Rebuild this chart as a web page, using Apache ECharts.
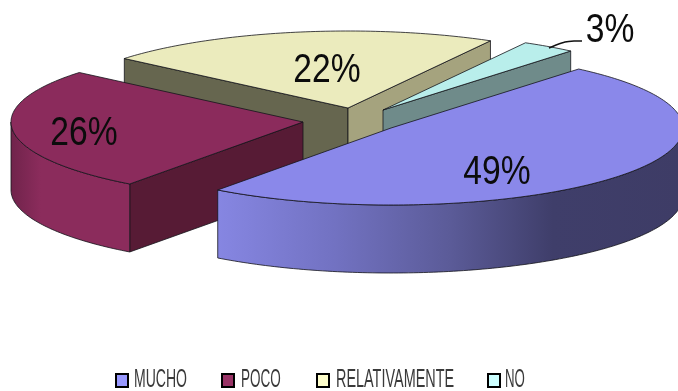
<!DOCTYPE html>
<html>
<head>
<meta charset="utf-8">
<style>html,body{margin:0;padding:0;background:#fff}#chart{width:678px;height:391px}</style>
<script src="https://cdn.jsdelivr.net/npm/echarts@6/dist/echarts.min.js"></script>
</head>
<body>
<div id="chart"></div>
<script>
const categories = ['MUCHO', 'POCO', 'RELATIVAMENTE', 'NO'];
const values = [49, 26, 22, 3];

// Clockwise angle of the first slice, measured from the top of the pie.
const startAngle = 40;
const radiusX = 292, radiusY = 77, depth = 68;

// Exploded centre, paint order and shading of each slice.
const centers = [[391, 128], [303, 122], [348, 108], [383, 110]];
const paintOrder = [4, 3, 1, 2];
const topColors = ['#8a88ea', '#8b2b5c', '#ebebbd', '#b9eeeb'];
const swatchColors = ['#9999ff', '#993366', '#ffffcc', '#ccffff'];
const startWallColors = [null, '#571b35', '#66664f', null];
const endWallColors = [null, null, '#a5a37e', '#6f8b8a'];
const rimStops = [
  [[0, '#8686e2'], [0.25, '#7272c2'], [0.5, '#5b5b98'], [0.72, '#3f3e6a'], [1, '#3e3c66']],
  [[0, '#70234b'], [0.25, '#8b2c5c'], [1, '#8b2c5c']]
];
const labelPositions = [[497, 173], [84, 134], [327, 71], [610, 31]];
const legendSwatchX = [115, 221, 316, 487];
const legendTextX = [134, 241, 336, 505];
const legendTextScale = [0.54, 0.52, 0.555, 0.51];
const labelScale = 0.82;
const edge = '#14141a';

const total = values.reduce((s, v) => s + v, 0);
const rad = d => d * Math.PI / 180;

function rimPoint(c, deg, drop) {
  return [c[0] + radiusX * Math.sin(rad(deg)), c[1] - radiusY * Math.cos(rad(deg)) + drop];
}
function arc(c, from, to, drop) {
  const pts = [];
  const n = Math.max(2, Math.ceil(Math.abs(to - from)));
  for (let i = 0; i <= n; i++) pts.push(rimPoint(c, from + (to - from) * i / n, drop));
  return pts;
}
function face(points, fill, z2) {
  return {
    type: 'polygon', z2: z2,
    shape: { points: points },
    style: { fill: fill, stroke: edge, lineWidth: 0.8, lineJoin: 'round' }
  };
}
function wall(c, deg, fill, z2) {
  const p = rimPoint(c, deg, 0), q = rimPoint(c, deg, depth);
  return face([[c[0], c[1]], p, q, [c[0], c[1] + depth]], fill, z2);
}

function renderSlice(index, value) {
  const before = values.slice(0, index).reduce((s, v) => s + v, 0);
  const from = startAngle + before / total * 360;
  const to = from + value / total * 360;
  const c = centers[index];
  const children = [];

  if (startWallColors[index]) children.push(wall(c, from, startWallColors[index], 1));
  if (endWallColors[index]) children.push(wall(c, to, endWallColors[index], 1));

  // The rim shows only on the half of the pie that faces the viewer.
  const a = Math.max(from, 90), b = Math.min(to, 270);
  if (b > a) {
    const upper = arc(c, a, b, 0), lower = arc(c, b, a, depth);
    const xs = upper.map(p => p[0]);
    children.push(face(upper.concat(lower), {
      type: 'linear', global: true,
      x: Math.min(...xs), y: 0, x2: Math.max(...xs), y2: 0,
      colorStops: rimStops[index].map(s => ({ offset: s[0], color: s[1] }))
    }, 2));
  }

  children.push(face([[c[0], c[1]]].concat(arc(c, from, to, 0)), topColors[index], 3));

  children.push({
    type: 'text', z2: 5,
    x: labelPositions[index][0], y: labelPositions[index][1], scaleX: labelScale,
    style: {
      text: value + '%', fill: '#0c0c0c',
      fontFamily: '"Liberation Sans"', fontSize: 41,
      textAlign: 'center', textVerticalAlign: 'middle'
    }
  });
  return { type: 'group', children: children };
}

const legendGraphics = [];
categories.forEach((name, i) => {
  legendGraphics.push({
    type: 'rect', left: legendSwatchX[i], top: 373,
    shape: { x: 0, y: 0, width: 12, height: 13 },
    style: { fill: swatchColors[i], stroke: '#000', lineWidth: 2 }
  });
  legendGraphics.push({
    type: 'text', x: legendTextX[i], y: 380, scaleX: legendTextScale[i],
    style: {
      text: name, fill: '#3a3a3a',
      fontFamily: '"Liberation Sans"', fontSize: 26,
      textAlign: 'left', textVerticalAlign: 'middle'
    }
  });
});

const chart = echarts.init(document.getElementById('chart'), null, { renderer: 'canvas' });
chart.setOption({
  animation: false,
  backgroundColor: '#ffffff',
  graphic: legendGraphics.concat([{
    // Leader from the smallest slice to its label.
    type: 'polyline', z: 20,
    shape: { points: [[549, 48], [556, 45], [565, 42], [574, 41], [582, 41]], smooth: 0.3 },
    style: { stroke: '#111', lineWidth: 1.4, fill: null }
  }]),
  series: categories.map((name, i) => ({
    type: 'custom',
    name: name,
    coordinateSystem: 'none',
    z: paintOrder[i] + 1,
    silent: true,
    data: [[values[i]]],
    renderItem: (params, api) => renderSlice(i, api.value(0))
  }))
});
</script>
</body>
</html>
